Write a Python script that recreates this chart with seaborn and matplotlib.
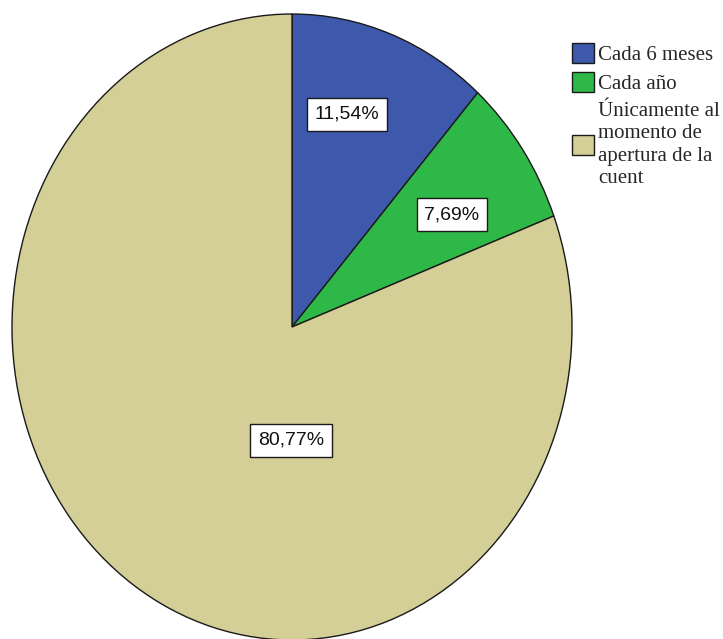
import matplotlib
matplotlib.use("Agg")
import matplotlib.pyplot as plt
import seaborn as sns
from matplotlib.patches import Patch

# Frequency of account information updates
categories = ["Cada 6 meses", "Cada año", "Únicamente al\nmomento de\napertura de la\ncuent"]
percentages = [11.54, 7.69, 80.77]
colors = ["#3E58AC", "#2EB848", "#D4CE97"]

sns.set_theme(style="white")
plt.rcParams["font.family"] = ["Liberation Serif", "DejaVu Sans"]

fig = plt.figure(figsize=(7.23, 6.39), dpi=100)
W, H = 723, 639
# axes spans the ellipse bounding box of the pie
ax = fig.add_axes([12 / W, (H - 640) / H, 560 / W, 626 / H])

wedges, _ = ax.pie(
    percentages,
    colors=colors,
    startangle=90,
    counterclock=False,
    radius=1.0,
    wedgeprops=dict(edgecolor="#1a1a1a", linewidth=1.0),
)
ax.set_aspect("auto")
ax.set_xlim(-1, 1)
ax.set_ylim(-1, 1)
ax.axis("off")

# value labels inside boxed annotations
label_pos = [(0.196, 0.679), (0.571, 0.359), (-0.004, -0.362)]
for val, (x, y) in zip(percentages, label_pos):
    ax.text(
        x, y, f"{val:.2f}%".replace(".", ","),
        ha="center", va="center", fontsize=14,
        family=["Liberation Sans", "DejaVu Sans"], color="#111111",
        bbox=dict(boxstyle="square,pad=0.4", facecolor="white",
                  edgecolor="#1a1a1a", linewidth=1.0),
    )

handles = [Patch(facecolor=c, edgecolor="#1a1a1a", linewidth=1.0) for c in colors]
leg = fig.legend(
    handles, categories,
    loc="upper left", bbox_to_anchor=(572 / W, 1 - 43 / H),
    frameon=False, fontsize=15,
    handlelength=1.05, handleheight=1.1, handletextpad=0.2,
    labelspacing=0.35, borderpad=0, borderaxespad=0,
)
for t in leg.get_texts():
    t.set_linespacing(1.25)

fig.savefig("out.png", dpi=100)
